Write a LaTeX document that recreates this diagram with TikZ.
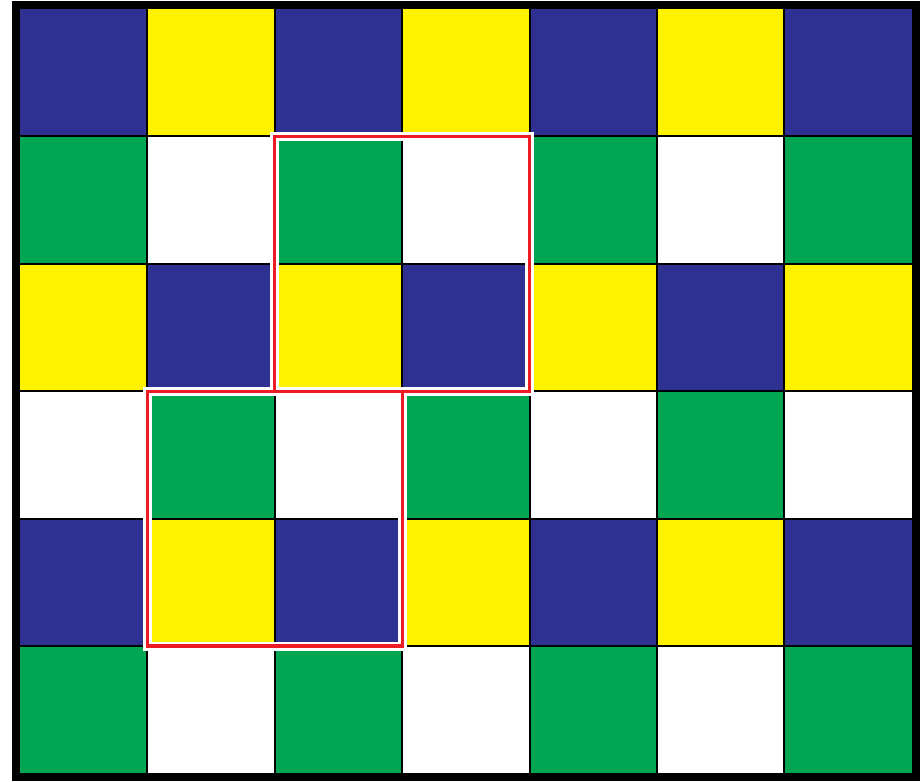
\documentclass[tikz,border=0pt]{standalone}
\usepackage{tikz}
\usepackage{xcolor}
\definecolor{cblue}{HTML}{2E3192}
\definecolor{cyellow}{HTML}{FFF200}
\definecolor{cgreen}{HTML}{00A651}
\definecolor{cred}{HTML}{ED1C24}
\tikzset{
	halo/.style={white, line width=2pt},
	outline/.style={cred, line width=0.7pt},
}
\begin{document}
\begin{tikzpicture}[x=1cm, y=-1cm]

		% === figure bounds ===
		\def\ncols{7}	\def\nrows{6}
		\useasboundingbox (-0.157,-0.071) rectangle (7.088,6.063);

		% === Cells ===
		\foreach \r/\ca/\cb in {0/cblue/cyellow, 1/cgreen/white, 2/cyellow/cblue,
				3/white/cgreen, 4/cblue/cyellow, 5/cgreen/white} {
			\foreach \c in {0,...,6} {
				\ifodd\c
					\fill[\cb] (\c,\r) rectangle ++(1,1);
				\else
					\fill[\ca] (\c,\r) rectangle ++(1,1);
				\fi
			}
		}

		% === Grid lines ===
		\foreach \c in {1,...,6} {
			\draw[line width=0.45pt] (\c,0) -- (\c,\nrows);		% columns
		}
		\foreach \r in {1,...,5} {
			\draw[line width=0.45pt] (0,\r) -- (\ncols,\r);		% rows
		}

		% === Outer frame ===
		\draw[line width=1.8pt] (-0.031,-0.031) rectangle (\ncols+0.031,\nrows+0.031);

		% === Highlighted blocks ===
		\draw[halo] (2,1) rectangle (4,3);
		\draw[halo] (1,3) rectangle (3,5);
		\draw[outline] (2,1) rectangle (4,3);
		\draw[outline] (1,3) rectangle (3,5);
	\end{tikzpicture}
\end{document}
